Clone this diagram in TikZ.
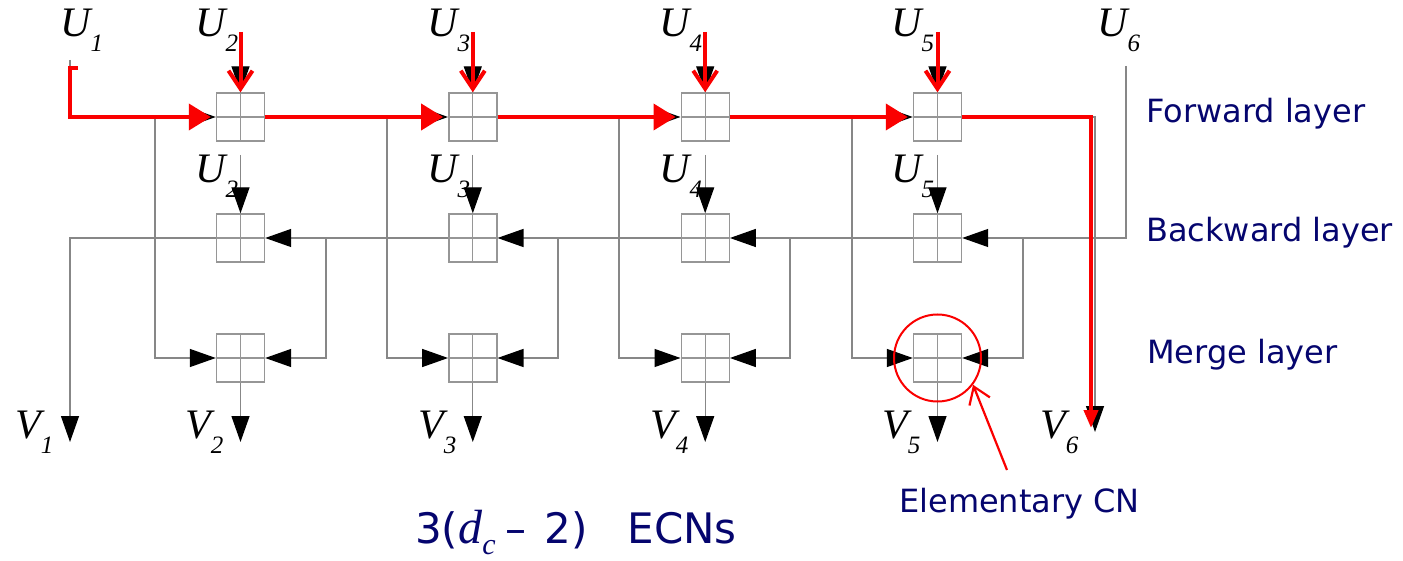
\documentclass[tikz,border=0pt]{standalone}
\usepackage{fontspec}
\setmainfont{Liberation Serif}
\newfontfamily\dvs{DejaVu Sans}
\usetikzlibrary{arrows.meta}
\definecolor{navy}{RGB}{5,5,110}
\definecolor{boxgray}{RGB}{150,150,150}
\definecolor{wiregray}{RGB}{135,135,135}
\definecolor{rd}{RGB}{250,0,0}
\newcommand\sublbl[2]{{\itshape\fontsize{42}{42}\selectfont #1\raisebox{-15pt}{\fontsize{25}{25}\selectfont #2}}}
\begin{document}
\begin{tikzpicture}[x=1pt,y=-1pt,
  ecn/.style={draw=boxgray, line width=1.4pt, minimum size=48pt, inner sep=0pt,
    path picture={\draw[boxgray,line width=1.2pt]
      (path picture bounding box.north) -- (path picture bounding box.south)
      (path picture bounding box.west) -- (path picture bounding box.east);}},
  wire/.style={draw=wiregray, line width=1.3pt},
  btip/.style={-{Triangle[length=26pt,width=18pt,color=black]}},
  redw/.style={draw=rd, line width=4pt},
  rtip/.style={-{Triangle[length=22pt,width=26pt]}, shorten >=5pt},
  rbarb/.style={-{Straight Barb[length=18pt,width=24pt]}},
  lab/.style={inner sep=0pt, anchor=base west},
  txt/.style={inner sep=0pt, anchor=base west, text=navy, font=\dvs\fontsize{32}{32}\selectfont}
]
\useasboundingbox (0,0) rectangle (1403,561);

% boxes
\foreach \i/\x in {2/240.5,3/472.8,4/705.2,5/937.5}{
  \node[ecn] (F\i) at (\x,117) {};
  \node[ecn] (B\i) at (\x,238) {};
  \node[ecn] (M\i) at (\x,358) {};
  \coordinate (ut\i) at (\x,32);
  \coordinate (us\i) at (\x,155);
  \coordinate (vo\i) at (\x,442);
}

% coordinates for free ends and branch points
\coordinate (u1top) at (70,60);
\coordinate (u1r) at (78,68);
\coordinate (u1c) at (70,68);
\coordinate (v1end) at (70,442);
\coordinate (u6top) at (1126,66);
\coordinate (v6end) at (1095,432);
\coordinate (v6red) at (1091,428);
\coordinate (fb2) at (155,117);
\coordinate (fb3) at (387,117);
\coordinate (fb4) at (619,117);
\coordinate (fb5) at (852,117);
\coordinate (bb2) at (326,238);
\coordinate (bb3) at (558,238);
\coordinate (bb4) at (790,238);
\coordinate (bb5) at (1023,238);

% forward layer wires
\draw[wire,btip] (u1top) |- (F2.west);
\draw[wire,btip] (F2.east) -- (F3.west);
\draw[wire,btip] (F3.east) -- (F4.west);
\draw[wire,btip] (F4.east) -- (F5.west);
\draw[wire,btip] (F5.east) -| (v6end);
% backward layer wires
\draw[wire,btip] (u6top) |- (B5.east);
\draw[wire,btip] (B5.west) -- (B4.east);
\draw[wire,btip] (B4.west) -- (B3.east);
\draw[wire,btip] (B3.west) -- (B2.east);
\draw[wire,btip] (B2.west) -| (v1end);
% branches to merge layer
\foreach \i in {2,3,4,5}{
  \draw[wire,btip] (fb\i) |- (M\i.west);
  \draw[wire,btip] (bb\i) |- (M\i.east);
  \draw[wire,btip] (ut\i) -- (F\i.north);
  \draw[wire,btip] (us\i) -- (B\i.north);
  \draw[wire,btip] (M\i.south) -- (vo\i);
}

% red path
\draw[redw,rtip] (u1r) -- (u1c) |- (F2.west);
\draw[redw,rtip] (F2.east) -- (F3.west);
\draw[redw,rtip] (F3.east) -- (F4.west);
\draw[redw,rtip] (F4.east) -- (F5.west);
\draw[redw,-{Triangle[length=18pt,width=14pt]}] (F5.east) -| (v6red);
\foreach \i in {2,3,4,5}{
  \draw[redw,rbarb] (ut\i) -- (F\i.north);
}

% labels U and V
\node[lab] (U1) at (60,37) {\sublbl{U}{1}};
\node[lab] (U2) at (195,37) {\sublbl{U}{2}};
\node[lab] (U3) at (427,37) {\sublbl{U}{3}};
\node[lab] (U4) at (659,37) {\sublbl{U}{4}};
\node[lab] (U5) at (891,37) {\sublbl{U}{5}};
\node[lab] (U6) at (1097,37) {\sublbl{U}{6}};
\node[lab] (U2s) at (195,183) {\sublbl{U}{2}};
\node[lab] (U3s) at (427,183) {\sublbl{U}{3}};
\node[lab] (U4s) at (659,183) {\sublbl{U}{4}};
\node[lab] (U5s) at (891,183) {\sublbl{U}{5}};
\node[lab] (V1) at (15,438) {\sublbl{V}{1}};
\node[lab] (V2) at (185,438) {\sublbl{V}{2}};
\node[lab] (V3) at (418,438) {\sublbl{V}{3}};
\node[lab] (V4) at (650,438) {\sublbl{V}{4}};
\node[lab] (V5) at (882,438) {\sublbl{V}{5}};
\node[lab] (V6) at (1040,438) {\sublbl{V}{6}};

% layer texts
\node[txt] (fl) at (1146,123) {Forward layer};
\node[txt] (bl) at (1146,242) {Backward layer};
\node[txt] (ml) at (1147,363) {Merge layer};
\node[txt] (ecnlbl) at (899,512) {Elementary CN};
\node[inner sep=0pt, anchor=base west, text=navy] (cnt) at (415,543)
  {\dvs\fontsize{42}{42}\selectfont 3(\kern0pt{\rmfamily\itshape\fontsize{48}{48}\selectfont d\raisebox{-11pt}{\fontsize{30}{30}\selectfont c}}\kern10pt–\kern18pt2)\hspace{40pt}ECNs};

% red ring and pointer
\node[draw=rd, circle, line width=2pt, minimum size=87pt, inner sep=0pt] (ring) at (M5) {};
\coordinate (ecnarr) at (1007,470);
\draw[rd, line width=2.2pt, -{Straight Barb[length=16pt,width=22pt]}] (ecnarr) -- (ring.-37);
\end{tikzpicture}
\end{document}
